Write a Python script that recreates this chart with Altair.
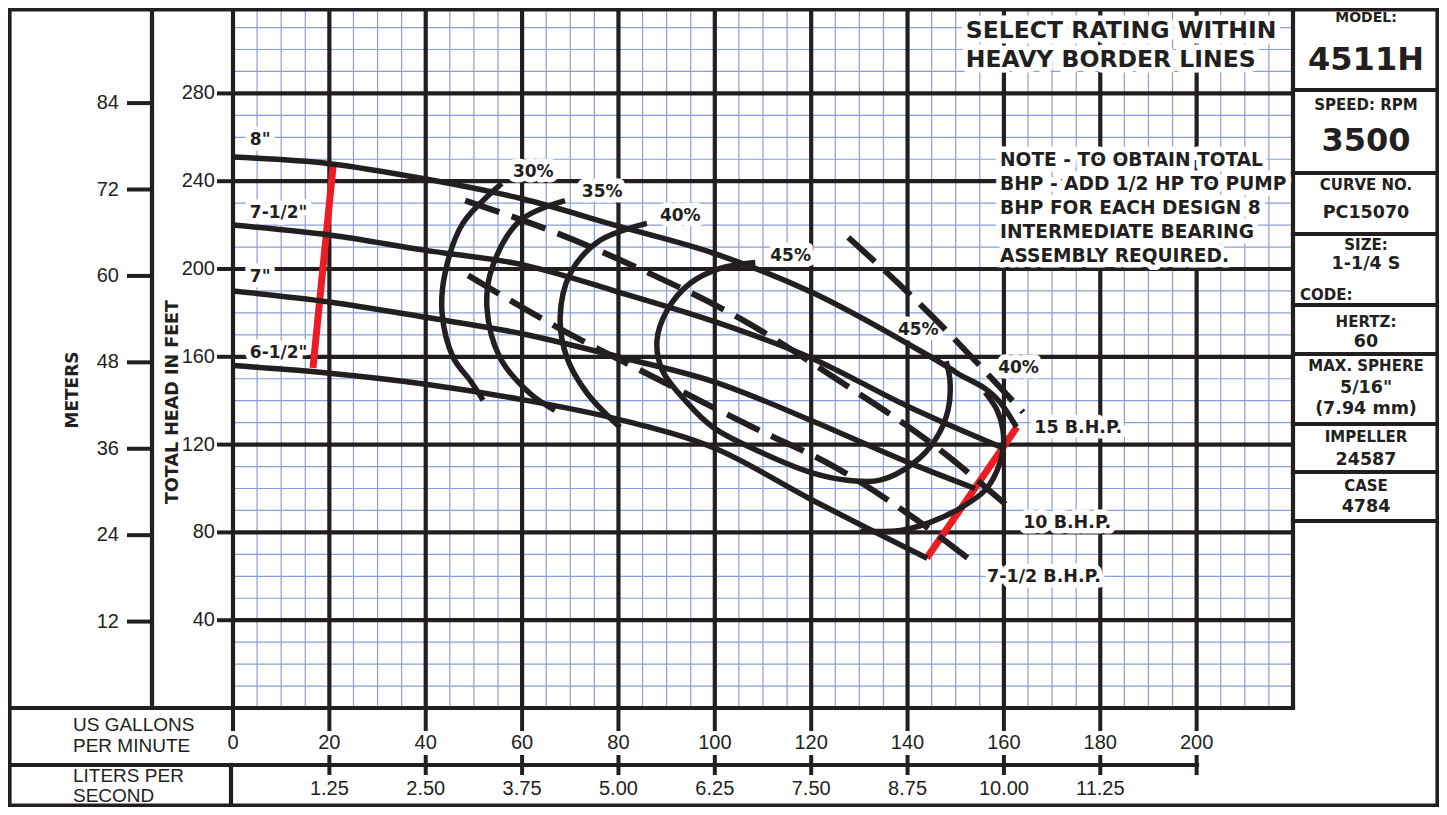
import altair as alt
import pandas as pd

# ---------------- chart values (US gpm / feet) ----------------
GPM_8 = [0, 20, 40, 60, 80, 100, 120, 140, 150, 160, 162.6]
HEAD_8 = [251, 248, 241, 232, 219.5, 207, 189.5, 166, 153, 137, 128]
GPM_75 = [0, 20, 40, 60, 80, 100, 120, 140, 159.8]
HEAD_75 = [220, 215.5, 208.5, 202, 189.5, 176, 159.5, 137.5, 118.5]
GPM_7 = [0, 20, 40, 60, 80, 100, 120, 140, 154]
HEAD_7 = [190, 185, 178, 170.5, 160, 148.5, 131, 112, 100]
GPM_65 = [0, 20, 40, 60, 80, 100, 120, 144.1]
HEAD_65 = [156, 152.5, 147.5, 140.5, 131.5, 118.3, 95, 68.2]

EFF_30_GPM = [55.8, 47.7, 44.0, 43.4, 45.7, 49.2, 51.9]
EFF_30_FT = [239.0, 220.8, 198.0, 179.8, 159.7, 149.3, 140.2]
EFF_35_GPM = [68.9, 59.6, 53.8, 52.7, 55.4, 61.6, 66.8]
EFF_35_FT = [231.2, 222.1, 200.7, 182.5, 159.7, 143.4, 135.6]
EFF_40L_GPM = [85.9, 76.2, 70.0, 67.9, 69.3, 73.5, 80.3]
EFF_40L_FT = [220.8, 213.1, 198.0, 178.0, 159.7, 143.4, 127.9]
EFF_40R_GPM = [156.1, 158.6, 159.8, 159.8, 158.6, 156.1, 150.9, 144.7, 138.5, 130.2]
EFF_40R_FT = [143.8, 135.6, 126.5, 117.4, 108.3, 99.2, 91.0, 84.6, 80.9, 80.5]
EFF_45_GPM = [108.4, 101.1, 94.9, 90.1, 88.0, 89.1, 93.8, 99.6, 110.0, 120.4,
              127.5, 134.3, 141.2, 145.7, 148.4, 148.8, 148.0]
EFF_45_FT = [203.0, 200.3, 193.5, 181.2, 167.5, 153.8, 140.2, 127.9, 116.1, 107.0,
             103.8, 103.8, 111.5, 122.0, 135.6, 149.3, 158.0]

BHP_15_GPM = [127.7, 142.2, 164.0]
BHP_15_FT = [214.4, 184.8, 134.7]
BHP_10_GPM = [48.2, 66.8, 85.1, 105.2, 126.6, 144.7, 161.3]
BHP_10_FT = [231.2, 216.7, 199.4, 177.5, 147.9, 121.0, 91.0]
BHP_75_GPM = [48.8, 65.8, 88.6, 107.9, 125.4, 142.0, 153.6]
BHP_75_FT = [197.1, 175.3, 149.3, 127.9, 109.2, 85.5, 66.4]

MIN_FLOW_GPM = [16.6, 20.8]
MIN_FLOW_FT = [154.9, 247.4]
END_CURVE_GPM = [144.0, 162.7]
END_CURVE_FT = [68.3, 128.0]

GPM_TICKS = [0, 20, 40, 60, 80, 100, 120, 140, 160, 180, 200]
LPS_TICK_GPM = [20, 40, 60, 80, 100, 120, 140, 160, 180, 200]
LPS_LABELS = ["1.25", "2.50", "3.75", "5.00", "6.25", "7.50", "8.75", "10.00", "11.25", ""]
FT_TICKS = [40, 80, 120, 160, 200, 240, 280]
M_TICKS = [12, 24, 36, 48, 60, 72, 84]

HEAD_LABELS = ['8"', '7-1/2"', '7"', '6-1/2"']
HEAD_LABEL_GPM = [3.5, 3.5, 3.5, 3.5]
HEAD_LABEL_FT = [258.8, 225.5, 196.4, 161.7]
EFF_LABELS = ["30%", "35%", "40%", "45%", "45%", "40%"]
EFF_LABEL_GPM = [58.1, 72.4, 88.6, 111.5, 138.0, 158.8]
EFF_LABEL_FT = [244.2, 235.1, 224.1, 205.9, 172.2, 154.9]
BHP_LABELS = ["15 B.H.P.", "10 B.H.P.", "7-1/2 B.H.P."]
BHP_LABEL_GPM = [166.3, 164.0, 156.5]
BHP_LABEL_FT = [127.6, 84.3, 59.7]
SELECT_LINES = ["SELECT RATING WITHIN", "HEAVY BORDER LINES"]
NOTE_LINES = ["NOTE - TO OBTAIN TOTAL", "BHP - ADD 1/2 HP TO PUMP",
              "BHP FOR EACH DESIGN 8", "INTERMEDIATE BEARING",
              "ASSEMBLY REQUIRED."]

PANEL_TEXT = ["MODEL:", "4511H", "SPEED:  RPM", "3500", "CURVE NO.", "PC15070",
              "SIZE:", "1-1/4 S", "HERTZ:", "60", "MAX. SPHERE", '5/16"',
              "(7.94 mm)", "IMPELLER", "24587", "CASE", "4784"]

# ---------------- layout / style ----------------
W, H = 1060, 698
OX, OY = 233, 10          # page position of plot origin
BLACK = "#231f20"
BLUE = "#8a9fd8"
RED = "#ed1c24"
BOLD = "DejaVu Sans"
REG = "Liberation Sans"

X_SC = alt.Scale(domain=[0, 220], nice=False, zero=False)
Y_SC = alt.Scale(domain=[0, 318], nice=False, zero=False)


def px(v):
    return v - OX


def py(v):
    return v - OY


def X(f="gpm"):
    return alt.X(f + ":Q", scale=X_SC, axis=None)


def Y(f="ft"):
    return alt.Y(f + ":Q", scale=Y_SC, axis=None)


def cdf(name, xs, ys):
    return pd.DataFrame({"gpm": xs, "ft": ys, "curve": name, "ord": list(range(len(xs)))})


layers = []

# grid
layers.append(alt.Chart(pd.DataFrame({"gpm": list(range(0, 221, 5))}))
              .mark_rule(color=BLUE, strokeWidth=1.2).encode(x=X()))
layers.append(alt.Chart(pd.DataFrame({"ft": list(range(0, 319, 10))}))
              .mark_rule(color=BLUE, strokeWidth=1.2).encode(y=Y()))
layers.append(alt.Chart(pd.DataFrame({"gpm": GPM_TICKS + [220]}))
              .mark_rule(color=BLACK, strokeWidth=4.2).encode(x=X()))
layers.append(alt.Chart(pd.DataFrame({"ft": FT_TICKS}))
              .mark_rule(color=BLACK, strokeWidth=4.2).encode(y=Y()))

# in-plot labels (halo + text)
lab = pd.concat([
    pd.DataFrame({"t": HEAD_LABELS, "gpm": HEAD_LABEL_GPM, "ft": HEAD_LABEL_FT, "fs": 17}),
    pd.DataFrame({"t": EFF_LABELS, "gpm": EFF_LABEL_GPM, "ft": EFF_LABEL_FT, "fs": 17}),
    pd.DataFrame({"t": BHP_LABELS, "gpm": BHP_LABEL_GPM, "ft": BHP_LABEL_FT, "fs": 17.5}),
    pd.DataFrame({"t": SELECT_LINES, "gpm": [152.1, 152.1], "ft": [308.4, 295.2], "fs": 23.5}),
    pd.DataFrame({"t": NOTE_LINES, "gpm": [159.2] * 5,
                  "ft": [249.7, 238.7, 227.8, 216.9, 206.0], "fs": 18.6}),
])
lab_enc = dict(x=X(), y=Y(), text="t:N", size=alt.Size("fs:Q", scale=None))
layers.append(alt.Chart(lab).mark_text(font=BOLD, fontWeight="bold", align="left",
                                       baseline="middle", fill="white", stroke="white",
                                       strokeWidth=11, strokeJoin="round").encode(**lab_enc))

# red limit lines
red = pd.concat([cdf("min", MIN_FLOW_GPM, MIN_FLOW_FT), cdf("end", END_CURVE_GPM, END_CURVE_FT)])
layers.append(alt.Chart(red).mark_line(color=RED, strokeWidth=7, strokeCap="butt")
              .encode(x=X(), y=Y(), detail="curve:N", order="ord:Q"))

# head curves
heads = pd.concat([cdf("8", GPM_8, HEAD_8), cdf("7.5", GPM_75, HEAD_75),
                   cdf("7", GPM_7, HEAD_7), cdf("6.5", GPM_65, HEAD_65)])
layers.append(alt.Chart(heads).mark_line(color=BLACK, strokeWidth=5.5, interpolate="monotone")
              .encode(x=X(), y=Y(), detail="curve:N", order="ord:Q"))

# efficiency curves
effs = pd.concat([cdf("30", EFF_30_GPM, EFF_30_FT), cdf("35", EFF_35_GPM, EFF_35_FT),
                  cdf("40L", EFF_40L_GPM, EFF_40L_FT), cdf("40R", EFF_40R_GPM, EFF_40R_FT),
                  cdf("45", EFF_45_GPM, EFF_45_FT)])
layers.append(alt.Chart(effs).mark_line(color=BLACK, strokeWidth=5.5, interpolate="catmull-rom")
              .encode(x=X(), y=Y(), detail="curve:N", order="ord:Q"))

# BHP dashed lines
bhp = pd.concat([cdf("15", BHP_15_GPM, BHP_15_FT), cdf("10", BHP_10_GPM, BHP_10_FT),
                 cdf("7.5", BHP_75_GPM, BHP_75_FT)])
layers.append(alt.Chart(bhp).mark_line(color=BLACK, strokeWidth=6, strokeDash=[36, 13],
                                       interpolate="monotone")
              .encode(x=X(), y=Y(), detail="curve:N", order="ord:Q"))

layers.append(alt.Chart(lab).mark_text(font=BOLD, fontWeight="bold", align="left",
                                       baseline="middle", color=BLACK).encode(**lab_enc))

# frame and table lines (page coordinates)
FL, FR, FT, FB = 9.5, 1437.5, 9.5, 805.5
seg = [(FL, FT, FR, FT), (FL, FB, FR, FB), (FL, FT, FL, FB), (FR, FT, FR, FB),
       (152, FT, 152, 708), (FL, 708, 1293, 708), (FL, 765, 1197, 765), (231, 765, 231, FB)]
for yy in [90, 173, 234, 305, 354, 424, 472, 521]:
    seg.append((1293, yy, FR, yy))
frame = pd.DataFrame([{"x": px(a), "y": py(b), "x2": px(c), "y2": py(d)} for a, b, c, d in seg])
layers.append(alt.Chart(frame).mark_rule(color=BLACK, strokeWidth=4.2, strokeCap="square").encode(
    x=alt.X("x:Q", scale=None, axis=None), x2="x2:Q",
    y=alt.Y("y:Q", scale=None, axis=None), y2="y2:Q"))

# gpm axis row
gdf = pd.DataFrame({"gpm": GPM_TICKS, "lab": [str(v) for v in GPM_TICKS]})
layers.append(alt.Chart(gdf).mark_rule(color=BLACK, strokeWidth=4).encode(
    x=X(), y=alt.value(py(708)), y2=alt.value(py(731))))
layers.append(alt.Chart(gdf).mark_text(font=REG, fontSize=20, color=BLACK, baseline="middle").encode(
    x=X(), y=alt.value(py(743)), text="lab:N"))

# liters per second row
ldf = pd.DataFrame({"gpm": LPS_TICK_GPM, "lab": LPS_LABELS})
layers.append(alt.Chart(ldf).mark_rule(color=BLACK, strokeWidth=4).encode(
    x=X(), y=alt.value(py(755)), y2=alt.value(py(775))))
layers.append(alt.Chart(ldf).mark_text(font=REG, fontSize=20, color=BLACK, baseline="middle").encode(
    x=X(), y=alt.value(py(789)), text="lab:N"))

# feet axis
fdf = pd.DataFrame({"ft": FT_TICKS, "lab": [str(v) for v in FT_TICKS]})
layers.append(alt.Chart(fdf).mark_rule(color=BLACK, strokeWidth=4).encode(
    y=Y(), x=alt.value(px(217)), x2=alt.value(px(233))))
layers.append(alt.Chart(fdf).mark_text(font=REG, fontSize=20, color=BLACK, align="right",
                                       baseline="middle").encode(
    y=Y(), x=alt.value(px(215)), text="lab:N"))

# meters axis
mdf = pd.DataFrame({"m": M_TICKS, "lab": [str(v) for v in M_TICKS]})
mbase = alt.Chart(mdf).transform_calculate(ft="datum.m * 3.28084")
layers.append(mbase.mark_rule(color=BLACK, strokeWidth=4).encode(
    y=Y(), x=alt.value(px(127)), x2=alt.value(px(152))))
layers.append(mbase.mark_text(font=REG, fontSize=20, color=BLACK, align="right",
                              baseline="middle").encode(
    y=Y(), x=alt.value(px(119)), text="lab:N"))

# axis titles
titles = pd.DataFrame({"t": ["METERS", "TOTAL HEAD IN FEET"],
                       "x": [px(73), px(173)], "y": [py(390), py(402)], "fs": [17, 17.5]})
layers.append(alt.Chart(titles).mark_text(font=BOLD, fontWeight="bold", angle=270,
                                          baseline="middle", color=BLACK).encode(
    x=alt.X("x:Q", scale=None, axis=None), y=alt.Y("y:Q", scale=None, axis=None),
    text="t:N", size=alt.Size("fs:Q", scale=None)))

# bottom-left row titles
rows = pd.DataFrame({"t": ["US GALLONS", "PER MINUTE", "LITERS PER", "SECOND"],
                     "x": [px(73)] * 4, "y": [py(725), py(746), py(776), py(796)]})
layers.append(alt.Chart(rows).mark_text(font=REG, fontSize=19, align="left", baseline="middle",
                                        color=BLACK).encode(
    x=alt.X("x:Q", scale=None, axis=None), y=alt.Y("y:Q", scale=None, axis=None), text="t:N"))

# right info panel
PANEL_Y = [18, 60, 105, 141, 185, 213, 245, 264, 322, 342, 366, 388, 409, 437, 460, 486, 507]
PANEL_FS = [14, 32, 15, 32, 15, 17.5, 15, 17.5, 15, 17.5, 15, 17.5, 17.5, 15, 17.5, 15, 17.5]
panel = pd.DataFrame({"t": PANEL_TEXT, "x": [px(1366)] * len(PANEL_TEXT),
                      "y": [py(v) for v in PANEL_Y], "fs": PANEL_FS})
layers.append(alt.Chart(panel).mark_text(font=BOLD, fontWeight="bold", baseline="middle",
                                         color=BLACK).encode(
    x=alt.X("x:Q", scale=None, axis=None), y=alt.Y("y:Q", scale=None, axis=None),
    text="t:N", size=alt.Size("fs:Q", scale=None)))
code = pd.DataFrame({"t": ["CODE:"], "x": [px(1300)], "y": [py(295)]})
layers.append(alt.Chart(code).mark_text(font=BOLD, fontWeight="bold", fontSize=15, align="left",
                                        baseline="middle", color=BLACK).encode(
    x=alt.X("x:Q", scale=None, axis=None), y=alt.Y("y:Q", scale=None, axis=None), text="t:N"))

chart = alt.layer(*layers).properties(
    width=W, height=H,
    padding={"left": 225, "top": 2, "right": 146, "bottom": 99},
    autosize=alt.AutoSizeParams(type="none"),
    background="white",
).configure_view(stroke=None)

chart.save("out.html", embed_options={"renderer": "svg", "actions": False})
